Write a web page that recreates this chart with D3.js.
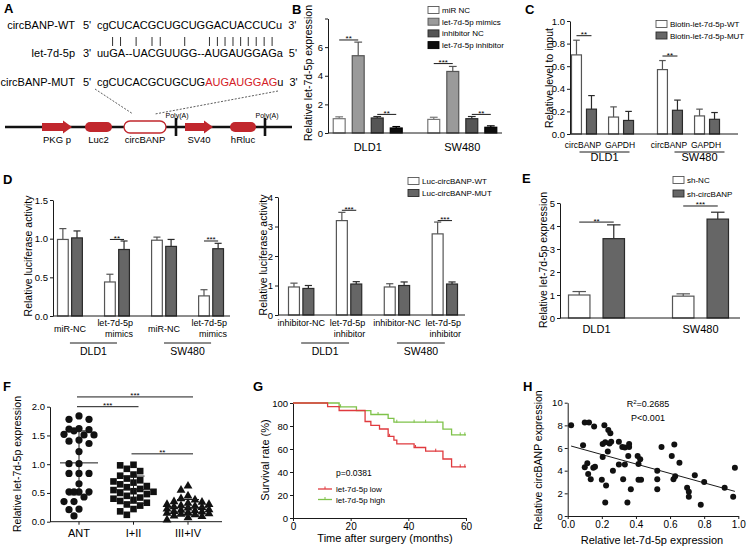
<!DOCTYPE html>
<html>
<head>
<meta charset="utf-8">
<script src="https://cdn.jsdelivr.net/npm/d3@7"></script>
<style>
  body { margin: 0; background: #fff; }
  svg { display: block; font-family: "Liberation Sans", Arial, Helvetica, sans-serif; }
</style>
</head>
<body>
<svg id="fig" width="747" height="549"></svg>
<script>
// ---------------- data ----------------
// A
const seqWT = 'cgCUCACGCUGCUGGACUACCUCu';
const seqMiR = 'uuGA--UACGUUGG--AUGAUGGAGa';
const seqMUT = ['cgCUCACGCUGCUG', 'AUGAUGGAG', 'u'];
const pairIdx = [2, 3, 5, 7, 8, 11, 14, 15, 16, 17, 18, 19, 20, 21, 22];
const constructParts = ['PKG p', 'Luc2', 'circBANP', 'SV40', 'hRluc'];

// B
const bCells = ['DLD1', 'SW480'];
const bSeries = ['miR NC', 'let-7d-5p mimics', 'inhibitor NC', 'let-7d-5p inhibitor'];
const bMean = [[1.0, 5.4, 1.05, 0.35], [0.95, 4.3, 1.0, 0.4]];
const bSem = [[0.13, 0.95, 0.1, 0.1], [0.15, 0.35, 0.15, 0.1]];
const bSig = [[0, 0, 1, 6.5, '**'], [0, 2, 3, 1.3, '**'], [1, 0, 1, 4.85, '***'], [1, 2, 3, 1.3, '**']];

// C
const cCells = ['DLD1', 'SW480'];
const cGenes = ['circBANP', 'GAPDH'];
const cSeries = ['Biotin-let-7d-5p-WT', 'Biotin-let-7d-5p-MUT'];
const cMean = [[[0.70, 0.22], [0.15, 0.12]], [[0.57, 0.21], [0.16, 0.13]]];
const cSem = [[[0.13, 0.12], [0.09, 0.08]], [[0.08, 0.09], [0.06, 0.06]]];
const cSig = [[0, 0, 0.87, '**'], [1, 0, 0.69, '**']];

// D
const dSeries = ['Luc-circBANP-WT', 'Luc-circBANP-MUT'];
const dCells = ['DLD1', 'SW480'];
const dMimicCats = ['miR-NC', 'let-7d-5p mimics'];
const dMimicMean = [[[0.99, 1.01], [0.44, 0.86]], [[0.98, 0.90], [0.26, 0.87]]];
const dMimicSem = [[[0.14, 0.09], [0.10, 0.11]], [[0.04, 0.09], [0.08, 0.07]]];
const dInhCats = ['inhibitor-NC', 'let-7d-5p inhibitor'];
const dInhMean = [[[0.95, 0.90], [3.2, 1.05]], [[0.95, 1.0], [2.75, 1.05]]];
const dInhSem = [[[0.13, 0.10], [0.28, 0.08]], [[0.11, 0.12], [0.40, 0.07]]];
const dMimicSig = [[0, 1, 0.99, '**'], [1, 1, 0.97, '***']];
const dInhSig = [[0, 1, 3.55, '***'], [1, 1, 3.2, '***']];

// E
const eCells = ['DLD1', 'SW480'];
const eSeries = ['sh-NC', 'sh-circBANP'];
const eMean = [[1.0, 3.45], [0.95, 4.3]];
const eSem = [[0.15, 0.6], [0.1, 0.3]];
const eSig = [[0, 4.17, '**'], [1, 4.87, '***']];

// F
const fGroups = ['ANT', 'I+II', 'III+IV'];
const fANT = [1.84, 1.78, 1.78, 1.62, 1.61, 1.58, 1.60, 1.51, 1.52, 1.51, 1.42, 1.36, 1.40, 1.22, 1.01,
  1.01, 0.84, 0.84, 0.84, 0.66, 0.52, 0.52, 0.52, 0.52, 0.43, 0.35, 0.35, 0.21, 0.22, 0.10];
const fStage12 = [0.99, 0.98, 0.92, 0.88, 0.82, 0.80, 0.75, 0.72, 0.70, 0.68, 0.65, 0.62, 0.60, 0.57, 0.55,
  0.53, 0.52, 0.50, 0.48, 0.45, 0.42, 0.40, 0.38, 0.36, 0.33, 0.30, 0.28, 0.22, 0.18, 0.12];
const fStage34 = [0.62, 0.55, 0.45, 0.40, 0.38, 0.35, 0.34, 0.32, 0.30, 0.30, 0.28, 0.27, 0.26, 0.25, 0.24,
  0.22, 0.21, 0.20, 0.19, 0.18, 0.17, 0.16, 0.15, 0.14, 0.13, 0.12, 0.10, 0.09, 0.07, 0.03];
const fSig = [[0, 2, 2.17, '***'], [0, 1, 2.0, '***'], [1, 2, 1.18, '**']];

// G  (Kaplan-Meier, months / %)
const gLowT = [12, 16, 25, 27, 30, 33, 35, 36, 42, 46, 52, 55];
const gLowS = [96.8, 93.5, 83.9, 80.6, 77.4, 71.0, 67.7, 64.5, 61.3, 58.1, 51.3, 44.5];
const gLowCens = [33.5, 42.5, 49.5, 58, 59.6];
const gHighT = [16, 22, 27, 33, 35, 52, 55];
const gHighS = [96.7, 93.4, 90.0, 86.7, 83.3, 77.3, 72.3];
const gHighCens = [16.5, 29.5, 36, 42, 46, 50, 58, 59.6];

// H
const hLet7 = [0.02, 0.10, 0.125, 0.155, 0.09, 0.215, 0.238, 0.25, 0.205, 0.22, 0.255, 0.245, 0.30, 0.32, 0.335,
  0.36, 0.36, 0.235, 0.205, 0.355, 0.41, 0.425, 0.415, 0.30, 0.335, 0.265, 0.10, 0.115, 0.15, 0.16,
  0.12, 0.135, 0.20, 0.325, 0.415, 0.43, 0.225, 0.37, 0.22, 0.35, 0.525, 0.525, 0.525, 0.55, 0.61,
  0.625, 0.62, 0.63, 0.655, 0.745, 0.70, 0.71, 0.71, 0.78, 0.80, 0.92, 0.97, 0.98];
const hCirc = [8.0, 8.25, 8.25, 7.9, 6.25, 8.0, 7.6, 7.3, 6.35, 6.5, 6.55, 6.4, 6.55, 6.1, 6.05,
  6.35, 6.1, 5.7, 5.2, 5.3, 5.3, 5.0, 4.6, 4.55, 4.55, 4.0, 4.3, 4.65, 4.25, 4.35,
  3.7, 3.25, 3.2, 3.25, 3.2, 3.2, 2.7, 2.35, 1.2, 1.2, 4.0, 3.25, 2.35, 6.1, 5.3,
  6.3, 3.25, 3.5, 4.7, 3.6, 2.5, 2.15, 1.7, 1.0, 3.0, 2.5, 1.7, 4.25];

// ---------------- helpers ----------------
const svg = d3.select('#fig');
const ink = '#1a1a1a';
const red = '#c1272d';

function panelLetter(x, y, t) {
  svg.append('text').attr('x', x).attr('y', y).attr('font-size', 13).attr('font-weight', 'bold').text(t);
}

function leftAxis(x, scale, ticks, fmt) {
  svg.append('g').attr('transform', `translate(${x},0)`)
    .call(d3.axisLeft(scale).tickValues(ticks).tickFormat(fmt).tickSize(3).tickSizeOuter(0).tickPadding(2))
    .call(a => a.attr('font-family', null).attr('font-size', 9.5))
    .call(a => a.selectAll('path,line').attr('stroke', ink));
}

function hLine(x1, x2, y) {
  svg.append('line').attr('x1', x1).attr('x2', x2).attr('y1', y).attr('y2', y).attr('stroke', ink);
}

function yTitle(x, y, txt, size) {
  svg.append('text').attr('transform', `translate(${x},${y}) rotate(-90)`)
    .attr('text-anchor', 'middle').attr('dominant-baseline', 'central')
    .attr('font-size', size || 10.5).text(txt);
}

function label(x, y, txt, size, anchor) {
  return svg.append('text').attr('x', x).attr('y', y).attr('font-size', size)
    .attr('text-anchor', anchor || 'middle').text(txt);
}

function sigMark(x1, x2, y, txt) {
  hLine(x1, x2, y);
  label((x1 + x2) / 2, y + 1.5, txt, 8);
}

// bars: {x, w, v, e, fill, stroke}
function drawBars(data, y) {
  const g = svg.append('g');
  g.selectAll('.stem').data(data).enter().append('line')
    .attr('x1', d => d.x + d.w / 2).attr('x2', d => d.x + d.w / 2)
    .attr('y1', d => y(d.v)).attr('y2', d => y(d.v + d.e))
    .attr('stroke', d => d.stroke).attr('stroke-width', 1.2);
  g.selectAll('.cap').data(data).enter().append('line')
    .attr('x1', d => d.x + d.w * 0.2).attr('x2', d => d.x + d.w * 0.8)
    .attr('y1', d => y(d.v + d.e)).attr('y2', d => y(d.v + d.e))
    .attr('stroke', d => d.stroke).attr('stroke-width', 1.2);
  g.selectAll('rect').data(data).enter().append('rect')
    .attr('x', d => d.x + 0.5).attr('y', d => y(d.v))
    .attr('width', d => d.w - 1).attr('height', d => y(0) - y(d.v))
    .attr('fill', d => d.fill).attr('stroke', d => d.stroke).attr('stroke-width', 1.2);
}

function legend(x, y0, dy, items, fills, strokes) {
  items.forEach((t, i) => {
    const y = y0 + i * dy;
    svg.append('rect').attr('x', x).attr('y', y - 3.5).attr('width', 11).attr('height', 7)
      .attr('fill', fills[i]).attr('stroke', strokes[i]).attr('stroke-width', 0.9);
    label(x + 14, y + 3, t, 8, 'start');
  });
}

const pairFill = ['#fff', '#666'];
const pairStroke = ['#555', '#2a2a2a'];

// ---------------- A ----------------
panelLetter(4, 13, 'A');
const seqX = 97;
const aRows = [29, 57, 86];
label(75, aRows[0], 'circBANP-WT', 11, 'end');
label(83, aRows[0], "5'", 11, 'start');
const wt = label(seqX, aRows[0], seqWT, 11, 'start');
const wtLen = wt.node().getComputedTextLength();
label(seqX + wtLen + 6, aRows[0], "3'", 11, 'start');

label(75, aRows[1], 'let-7d-5p', 11, 'end');
label(83, aRows[1], "3'", 11, 'start');
const mi = label(seqX, aRows[1], seqMiR, 11, 'start');
label(seqX + mi.node().getComputedTextLength() + 6, aRows[1], "5'", 11, 'start');

// base-pair ticks placed under the WT characters
pairIdx.forEach(i => {
  const ext = wt.node().getExtentOfChar(i);
  const cx = ext.x + ext.width / 2;
  svg.append('line').attr('x1', cx).attr('x2', cx).attr('y1', 37).attr('y2', 46)
    .attr('stroke', ink).attr('stroke-width', 0.9);
});

label(75, aRows[2], 'circBANP-MUT', 11, 'end');
label(83, aRows[2], "5'", 11, 'start');
const mut = label(seqX, aRows[2], '', 11, 'start');
mut.append('tspan').text(seqMUT[0]);
mut.append('tspan').attr('fill', '#d42027').text(seqMUT[1]);
mut.append('tspan').text(seqMUT[2]);
label(seqX + mut.node().getComputedTextLength() + 6, aRows[2], "3'", 11, 'start');

// reporter construct
const cy = 127;
svg.append('line').attr('x1', 5).attr('x2', 292).attr('y1', cy).attr('y2', cy)
  .attr('stroke', '#111').attr('stroke-width', 2.4);
svg.append('line').attr('x1', 95).attr('y1', 89).attr('x2', 133).attr('y2', 114)
  .attr('stroke', '#333').attr('stroke-width', 0.8).attr('stroke-dasharray', '2,1.5');
svg.append('line').attr('x1', 278).attr('y1', 91).attr('x2', 155).attr('y2', 114)
  .attr('stroke', '#333').attr('stroke-width', 0.8).attr('stroke-dasharray', '2,1.5');

const partSpan = [[42, 72, 'arrow'], [85, 112, 'pill'], [124, 166, 'open'], [185, 213, 'arrow'], [230, 256, 'pill']];
partSpan.forEach(([x0, x1, kind], i) => {
  if (kind === 'arrow') {
    svg.append('path')
      .attr('d', `M${x0},${cy - 4} H${x1 - 9} V${cy - 6.5} L${x1},${cy} L${x1 - 9},${cy + 6.5} V${cy + 4} H${x0} Z`)
      .attr('fill', red);
  } else if (kind === 'pill') {
    svg.append('rect').attr('x', x0).attr('y', cy - 5).attr('width', x1 - x0).attr('height', 10)
      .attr('rx', 5).attr('fill', red);
  } else {
    svg.append('rect').attr('x', x0).attr('y', cy - 6).attr('width', x1 - x0).attr('height', 12)
      .attr('rx', 6).attr('fill', '#fff').attr('stroke', red).attr('stroke-width', 1.3);
  }
  label((x0 + x1) / 2, 143, constructParts[i], 9.5);
});
[[176, 177], [265, 267]].forEach(([x, tx]) => {
  svg.append('rect').attr('x', x - 1.3).attr('y', cy - 9).attr('width', 2.6).attr('height', 18).attr('fill', '#111');
  label(tx, 118, 'Poly(A)', 7);
});

// ---------------- B ----------------
panelLetter(292, 14, 'B');
const bY = d3.scaleLinear().domain([0, 8]).range([133, 18.5]);
const bX = d3.scaleBand().domain(bCells).range([328, 502]).paddingInner(0.26).paddingOuter(0.05);
const bX1 = d3.scaleBand().domain(bSeries).range([0, bX.bandwidth()]).paddingInner(0.32);
const bFill = ['#fff', '#9a9a9a', '#555', '#0d0d0d'];
const bStroke = ['#777', '#555', '#2a2a2a', '#000'];
const bBars = [];
bCells.forEach((c, ci) => bSeries.forEach((s, si) => bBars.push({
  x: bX(c) + bX1(s), w: bX1.bandwidth(), v: bMean[ci][si], e: bSem[ci][si], fill: bFill[si], stroke: bStroke[si]
})));
drawBars(bBars, bY);
leftAxis(328, bY, [0, 2, 4, 6, 8], d => d === 8 ? '' : d);
hLine(328, 502, bY(0));
bCells.forEach(c => label(bX(c) + bX.bandwidth() / 2, 151, c, 11));
bSig.forEach(([ci, a, b, lv, t]) => {
  const x0 = bX(bCells[ci]);
  sigMark(x0 + bX1(bSeries[a]) + bX1.bandwidth() / 2, x0 + bX1(bSeries[b]) + bX1.bandwidth() / 2, bY(lv), t);
});
yTitle(308, 73, 'Relative let-7d-5p expression', 10.5);
legend(428, 10, 11.7, bSeries, bFill, ['#555', '#555', '#2a2a2a', '#000']);

// ---------------- C ----------------
panelLetter(525, 14, 'C');
const cY = d3.scaleLinear().domain([0, 1]).range([134, 21]);
const cX = d3.scaleBand().domain(cCells).range([571, 720]).paddingInner(0.267);
const cX1 = d3.scaleBand().domain(cGenes).range([0, cX.bandwidth()]).paddingInner(0.3);
const cX2 = d3.scaleBand().domain(cSeries).range([0, cX1.bandwidth()]).paddingInner(0.27);
const cBars = [];
cCells.forEach((c, ci) => cGenes.forEach((g, gi) => cSeries.forEach((s, si) => cBars.push({
  x: cX(c) + cX1(g) + cX2(s), w: cX2.bandwidth(), v: cMean[ci][gi][si], e: cSem[ci][gi][si],
  fill: pairFill[si], stroke: pairStroke[si]
}))));
drawBars(cBars, cY);
leftAxis(570, cY, [0, 0.2, 0.4, 0.6, 0.8, 1.0], d3.format('.1f'));
hLine(570, 738, cY(0));
cCells.forEach((c, ci) => {
  cGenes.forEach(g => label(cX(c) + cX1(g) + cX1.bandwidth() / 2 - 1, 148, g, 8.5));
  const mid = cX(c) + cX.bandwidth() / 2 + (ci ? 11 : 2);
  hLine(mid - 25, mid + 25, 152);
  label(mid, 161, c, 11);
});
cSig.forEach(([ci, gi, lv, t]) => {
  const x0 = cX(cCells[ci]) + cX1(cGenes[gi]);
  sigMark(x0 + cX2(cSeries[0]) + cX2.bandwidth() / 2, x0 + cX2(cSeries[1]) + cX2.bandwidth() / 2, cY(lv), t);
});
yTitle(549, 78, 'Relative level to input', 10.5);
legend(656, 24, 11.5, cSeries, pairFill, pairStroke);

// ---------------- D ----------------
panelLetter(3, 184, 'D');
function dPanel(axisX, xEnd, range, yDomain, yRange, ticks, fmt, cats, mean, sem, sigs, twoLineFirst) {
  const y = d3.scaleLinear().domain(yDomain).range(yRange);
  const keys = [];
  dCells.forEach(c => cats.forEach(k => keys.push(c + '|' + k)));
  const x = d3.scaleBand().domain(keys).range(range).paddingInner(0.45);
  const x2 = d3.scaleBand().domain(dSeries).range([0, x.bandwidth()]).paddingInner(0.17);
  const bars = [];
  dCells.forEach((c, ci) => cats.forEach((k, ki) => dSeries.forEach((s, si) => bars.push({
    x: x(c + '|' + k) + x2(s), w: x2.bandwidth(), v: mean[ci][ki][si], e: sem[ci][ki][si],
    fill: pairFill[si], stroke: pairStroke[si]
  }))));
  drawBars(bars, y);
  leftAxis(axisX, y, ticks, fmt);
  hLine(axisX, xEnd, y(0));
  dCells.forEach((c, ci) => {
    const c0 = x(c + '|' + cats[0]) + x.bandwidth() / 2;
    const c1 = x(c + '|' + cats[1]) + x.bandwidth() / 2;
    // single-line control label, two-line treatment label
    label(c0, twoLineFirst ? 325.5 : 332, cats[0], 9);
    const words = cats[1].split(' ');
    const right = x(c + '|' + cats[1]) + x.bandwidth() + 3;
    label(right, 325.5, words[0], 9, 'end');
    label(right, 337, words[1], 9, 'end');
    hLine(c0, c1, 343);
    label((c0 + c1) / 2, 354.5, c, 10.5);
  });
  sigs.forEach(([ci, ki, lv, t]) => {
    const x0 = x(dCells[ci] + '|' + cats[ki]);
    sigMark(x0 + x2.bandwidth() / 2, x0 + x2(dSeries[1]) + x2.bandwidth() / 2, y(lv), t);
  });
}
dPanel(53, 230, [57, 224], [0, 1.5], [316, 200], [0, 0.5, 1.0, 1.5], d3.format('.1f'),
  dMimicCats, dMimicMean, dMimicSem, dMimicSig, false);
yTitle(28, 256, 'Relative luciferase activity', 10.5);
dPanel(278, 465, [288, 458], [0, 4], [315, 197], [0, 1, 2, 3, 4], d3.format('d'),
  dInhCats, dInhMean, dInhSem, dInhSig, true);
yTitle(263, 255, 'Relative luciferase activity', 10.5);
legend(408, 181, 12, dSeries, pairFill, pairStroke);

// ---------------- E ----------------
panelLetter(522, 183, 'E');
const eY = d3.scaleLinear().domain([0, 5]).range([318, 203]);
const eX = d3.scaleBand().domain(eCells).range([568, 729]).paddingInner(0.452);
const eX1 = d3.scaleBand().domain(eSeries).range([0, eX.bandwidth()]).paddingInner(0.35);
const eBars = [];
eCells.forEach((c, ci) => eSeries.forEach((s, si) => eBars.push({
  x: eX(c) + eX1(s), w: eX1.bandwidth(), v: eMean[ci][si], e: eSem[ci][si], fill: pairFill[si], stroke: pairStroke[si]
})));
drawBars(eBars, eY);
leftAxis(560, eY, [0, 1, 2, 3, 4, 5], d3.format('d'));
hLine(560, 740, eY(0));
eCells.forEach(c => label(eX(c) + eX.bandwidth() / 2, 333, c, 11));
eSig.forEach(([ci, lv, t]) => {
  const x0 = eX(eCells[ci]);
  sigMark(x0 + eX1.bandwidth() / 2, x0 + eX1(eSeries[1]) + eX1.bandwidth() / 2, eY(lv), t);
});
yTitle(543, 260, 'Relative let-7d-5p expression', 10.5);
legend(673, 180, 13.5, eSeries, pairFill, pairStroke);

// ---------------- F ----------------
panelLetter(3, 391, 'F');
const fY = d3.scaleLinear().domain([0, 2]).range([521.7, 406.7]);
const fX = d3.scalePoint().domain(fGroups).range([79, 188]);
const fData = [fANT, fStage12, fStage34];
const fSpread = [15, 20, 21];
leftAxis(50, fY, [0, 0.5, 1.0, 1.5, 2.0], d3.format('.1f'));
hLine(50, 222, fY(0));
fGroups.forEach((g, gi) => {
  const cx = fX(g);
  svg.append('line').attr('x1', cx).attr('x2', cx).attr('y1', fY(0)).attr('y2', fY(0) + 3).attr('stroke', ink);
  label(cx, 537, g, 11);
  // compact beeswarm: free slot within the group spread, else the least crowded one
  const vals = fData[gi].slice().sort((a, b) => b - a);
  const placed = [];
  const slots = d3.range(-fSpread[gi], fSpread[gi] + 0.1, fSpread[gi] / 3)
    .sort((a, b) => Math.abs(a) - Math.abs(b));
  vals.forEach(v => {
    const py = fY(v);
    let best = null, bestD = -1;
    for (const off of slots) {
      const px = cx + off;
      const dmin = d3.min(placed, p => Math.hypot(p.x - px, p.y - py)) ?? 99;
      if (dmin >= 7) { best = px; break; }
      if (dmin > bestD) { bestD = dmin; best = px; }
    }
    placed.push({x: best, y: py, v});
  });
  const mk = svg.append('g').attr('fill', '#111');
  if (gi === 0) {
    mk.selectAll('circle').data(placed).enter().append('circle')
      .attr('cx', d => d.x).attr('cy', d => d.y).attr('r', 3.6);
  } else if (gi === 1) {
    mk.selectAll('rect').data(placed).enter().append('rect')
      .attr('x', d => d.x - 3.3).attr('y', d => d.y - 3.3).attr('width', 6.6).attr('height', 6.6);
  } else {
    mk.selectAll('path').data(placed).enter().append('path')
      .attr('d', d3.symbol(d3.symbolTriangle, 34))
      .attr('transform', d => `translate(${d.x},${d.y})`);
  }
  // mean +- SD
  const m = d3.mean(fData[gi]);
  const sd = d3.deviation(fData[gi]);
  hLine(cx - 19, cx + 19, fY(m));
  hLine(cx - 11, cx + 11, fY(m + sd));
  hLine(cx - 11, cx + 11, fY(Math.max(0, m - sd)));
  svg.append('line').attr('x1', cx).attr('x2', cx).attr('y1', fY(m + sd)).attr('y2', fY(Math.max(0, m - sd)))
    .attr('stroke', ink);
});
fSig.forEach(([a, b, lv, t]) => sigMark(fX(fGroups[a]) - 2, fX(fGroups[b]) + 5, fY(lv), t));
yTitle(17, 464, 'Relative let-7d-5p expression', 10.5);

// ---------------- G ----------------
panelLetter(253, 391, 'G');
const gX = d3.scaleLinear().domain([0, 60]).range([293, 466]);
const gY = d3.scaleLinear().domain([0, 100]).range([518, 403]);
leftAxis(293, gY, [0, 20, 40, 60, 80, 100], d3.format('d'));
svg.append('g').attr('transform', `translate(0,${gY(0)})`)
  .call(d3.axisBottom(gX).tickValues([0, 20, 40, 60]).tickSize(3).tickSizeOuter(0).tickPadding(2))
  .call(a => a.attr('font-family', null).attr('font-size', 10))
  .call(a => a.selectAll('path,line').attr('stroke', ink));

function survAt(T, S, t) {
  let s = 100;
  T.forEach((tt, i) => { if (tt <= t) s = S[i]; });
  return s;
}
function kmCurve(T, S, cens, color) {
  const pts = [[0, 100]].concat(T.map((t, i) => [t, S[i]]), [[60, S[S.length - 1]]]);
  svg.append('path')
    .attr('d', d3.line().x(d => gX(d[0])).y(d => gY(d[1])).curve(d3.curveStepAfter)(pts))
    .attr('fill', 'none').attr('stroke', color).attr('stroke-width', 1.3);
  svg.append('g').selectAll('line').data(cens).enter().append('line')
    .attr('x1', d => gX(d)).attr('x2', d => gX(d))
    .attr('y1', d => gY(survAt(T, S, d)) - 2.5).attr('y2', d => gY(survAt(T, S, d)) + 0.5)
    .attr('stroke', color).attr('stroke-width', 1);
}
const gRed = '#e03a3e';
const gGreen = '#7fc24a';
kmCurve(gHighT, gHighS, gHighCens, gGreen);
kmCurve(gLowT, gLowS, gLowCens, gRed);
label(336, 476, 'p=0.0381', 8.5, 'start');
[['let-7d-5p low', gRed], ['let-7d-5p high', gGreen]].forEach(([t, c], i) => {
  const y = 489 + i * 10.5;
  svg.append('line').attr('x1', 318).attr('x2', 332).attr('y1', y).attr('y2', y).attr('stroke', c).attr('stroke-width', 1.3);
  svg.append('line').attr('x1', 325).attr('x2', 325).attr('y1', y - 2.5).attr('y2', y).attr('stroke', c);
  label(336, y + 3, t, 8, 'start');
});
yTitle(265, 460, 'Survival rate (%)', 11);
label(385, 542, 'Time after surgery (months)', 11);

// ---------------- H ----------------
panelLetter(523, 391, 'H');
const hX = d3.scaleLinear().domain([0, 1]).range([567.7, 738.3]);
const hY = d3.scaleLinear().domain([0, 10]).range([516, 402.7]);
leftAxis(567.7, hY, [0, 2, 4, 6, 8, 10], d3.format('d'));
svg.append('g').attr('transform', `translate(0,${hY(0)})`)
  .call(d3.axisBottom(hX).tickValues([0, 0.2, 0.4, 0.6, 0.8, 1.0]).tickFormat(d3.format('.1f'))
    .tickSize(3).tickSizeOuter(0).tickPadding(2))
  .call(a => a.attr('font-family', null).attr('font-size', 10))
  .call(a => a.selectAll('path,line').attr('stroke', ink));

// least-squares fit
const hMx = d3.mean(hLet7), hMy = d3.mean(hCirc);
const hSlope = d3.sum(hLet7, (x, i) => (x - hMx) * (hCirc[i] - hMy)) / d3.sum(hLet7, x => (x - hMx) ** 2);
const hInt = hMy - hSlope * hMx;
const hExt = d3.extent(hLet7);
svg.append('line').attr('x1', hX(hExt[0])).attr('x2', hX(hExt[1]))
  .attr('y1', hY(hInt + hSlope * hExt[0])).attr('y2', hY(hInt + hSlope * hExt[1]))
  .attr('stroke', ink).attr('stroke-width', 1);
svg.append('g').selectAll('circle').data(hLet7).enter().append('circle')
  .attr('cx', d => hX(d)).attr('cy', (d, i) => hY(hCirc[i])).attr('r', 3).attr('fill', '#111');
const r2 = label(648, 407, '', 9);
r2.append('tspan').text('R');
r2.append('tspan').attr('font-size', 6).attr('dy', -3.5).text('2');
r2.append('tspan').attr('dy', 3.5).text('=0.2685');
label(648, 421, 'P<0.001', 9);
yTitle(538, 460, 'Relative circBANP expression', 10.5);
label(652, 544, 'Relative let-7d-5p expression', 11);
</script>
</body>
</html>
